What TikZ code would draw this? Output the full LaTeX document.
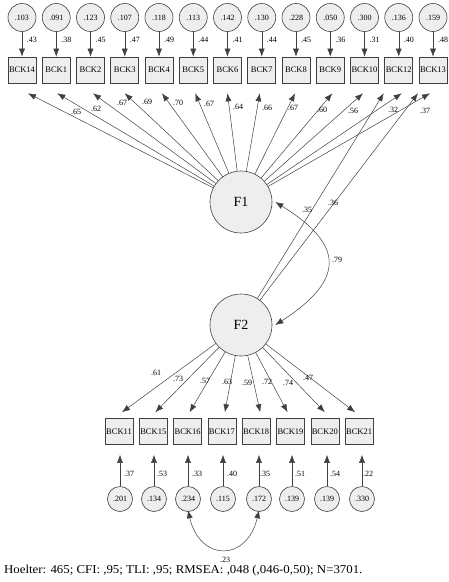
\documentclass[tikz,border=0pt]{standalone}
\usepackage{graphicx}
\usepackage{fontspec}
\setmainfont{Liberation Serif}
\usetikzlibrary{arrows.meta}
\definecolor{lc}{HTML}{404040}
\definecolor{fillc}{HTML}{EEEEEE}
\begin{document}
\begin{tikzpicture}[x=1pt,y=-1pt,
 obs/.style={draw=lc, fill=fillc, line width=0.6pt, minimum width=28pt, minimum height=26pt, inner sep=0pt, font=\fontsize{8.5}{9}\selectfont},
 err/.style={circle, draw=lc, fill=fillc, line width=0.6pt, minimum size=28pt, inner sep=0pt, font=\fontsize{8}{9}\selectfont},
 err2/.style={err, minimum size=25pt},
 lat/.style={circle, draw=lc, fill=fillc, line width=0.6pt, minimum size=62pt, inner sep=0pt, font=\fontsize{14}{16}\selectfont},
 arr/.style={draw=lc, line width=0.5pt, -{Latex[length=8pt,width=6pt]}},
 arrb/.style={draw=lc, line width=0.5pt, {Latex[length=8pt,width=6pt]}-{Latex[length=8pt,width=6pt]}},
 lab/.style={inner sep=0pt, font=\fontsize{8}{9}\selectfont}]
\useasboundingbox (0,0) rectangle (449,582);

% latent factors
\node[lat] (F1) at (241,202) {F1};
\node[lat] (F2) at (241,325) {F2};

% top indicators
\foreach \nm/\ev/\el [count=\i from 0] in {BCK14/.103/.43, BCK1/.091/.38, BCK2/.123/.45, BCK3/.107/.47, BCK4/.118/.49, BCK5/.113/.44, BCK6/.142/.41, BCK7/.130/.44, BCK8/.228/.45, BCK9/.050/.36, BCK10/.300/.31, BCK12/.136/.40, BCK13/.159/.48} {
  \pgfmathsetmacro\xx{22+34.25*\i}
  \node[err] (te\i) at (\xx,17.5) {\ev};
  \node[obs] (tb\i) at (\xx,70) {\nm};
  \draw[arr] (te\i) -- (tb\i);
  \node[lab] (tl\i) at (\xx+10,40) {\el};
}

% F1 loadings
\foreach \i/\dx/\lv/\lx/\ly in {0/6/.65/76/112, 1/1/.62/96/109, 2/2.5/.67/122/103, 3/0/.69/147/102, 4/3/.70/178/103, 5/2/.67/209/104, 6/0/.64/238/107, 7/-2/.66/267/108, 8/-1/.67/293/108, 9/2/.60/322/110, 10/-1.5/.56/353/111, 11/3/.32/393/110, 12/-3/.37/425/111} {
  \draw[arr] (F1) -- ([shift={(\dx,10)}]tb\i.south);
  \node[lab] (fl\i) at (\lx,\ly) {\lv};
}

% F2 cross loadings
\draw[arr] (F2) -- ([shift={(-15,10)}]tb11.south);
\draw[arr] (F2) -- ([shift={(-15,10)}]tb12.south);
\node[lab] (cl1) at (307,210) {.35};
\node[lab] (cl2) at (333,203) {.36};

% factor covariance
\draw[arrb] ([xshift=3]F1.east) .. controls (345,245) and (345,280) .. ([xshift=3]F2.east);
\node[lab] (cov) at (337,260) {.79};

% bottom indicators
\foreach \nm/\ev/\el/\elx/\dx/\lv/\lx/\ly/\cx [count=\j from 0] in {BCK11/.201/.37/129/3/.61/156/373/120, BCK15/.134/.53/162/2/.73/178/379/154, BCK16/.234/.33/197/2/.57/205/381/188, BCK17/.115/.40/232/3/.63/227/382/223, BCK18/.172/.35/265/4/.59/247/383/259, BCK19/.139/.51/300/-3/.72/267/382/292, BCK20/.139/.54/335/0/.74/288/383/327, BCK21/.330/.22/368/-4/.47/308/378/362} {
  \pgfmathsetmacro\bx{119+34.3*\j}
  \node[obs] (bb\j) at (\bx,431.5) {\nm};
  \node[err2] (be\j) at (\cx,499) {\ev};
  \draw[arr, shorten >=10pt] (be\j) -- (be\j.center |- bb\j.south);
  \node[lab] (bl\j) at (\elx,474) {\el};
  \draw[arr] (F2) -- ([shift={(\dx,-6)}]bb\j.north);
  \node[lab] (gl\j) at (\lx,\ly) {\lv};
}

% residual covariance
\draw[arrb] ([yshift=1.5]be2.south) .. controls (200,562) and (247,562) .. ([yshift=1.5]be4.south);
\node[lab] (rc) at (225,560) {.23};

% footer
\node[anchor=west, inner sep=0pt] (foot) at (4,571) {\fontsize{12}{14}\selectfont\scalebox{1.07}[1]{Hoelter: 465; CFI: ,95; TLI: ,95; RMSEA: ,048 (,046-0,50); N=3701.}};
\end{tikzpicture}
\end{document}
